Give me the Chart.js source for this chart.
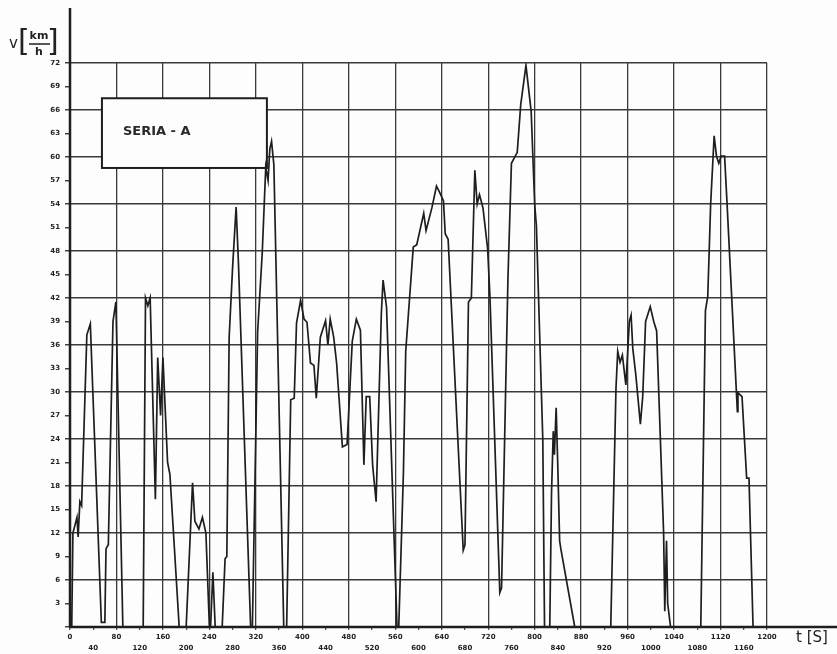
<!DOCTYPE html>
<html>
<head>
<meta charset="utf-8">
<script src="https://cdn.jsdelivr.net/npm/chart.js@4.4.0/dist/chart.umd.min.js"></script>
<style>
  html, body { margin: 0; padding: 0; background: #fff; }
</style>
</head>
<body>
<canvas id="Chart" width="837" height="654"></canvas>
<script>
// speed trace "SERIA - A"
const time = [0, 3, 5, 12, 14, 17, 20, 29, 35, 54, 60, 62, 66, 74, 79, 91,
  126, 130, 134, 138, 147, 151, 156, 160, 168, 172, 188,
  200, 211, 215, 222, 228, 234, 240, 242, 246, 250,
  262, 267, 270, 274, 280, 286, 290, 311,
  314, 323, 331, 337, 341, 344, 347, 351, 368,
  373, 380, 386, 390, 397, 403, 408, 414, 420, 424, 431, 440, 444, 448, 454, 459,
  469, 477, 486, 493, 500, 506, 510, 516, 521, 527, 536, 539, 545, 563,
  566, 574, 578, 591, 597, 609, 613, 623, 631, 637, 643, 646, 651, 677, 680,
  686, 691, 697, 701, 705, 711, 719, 723, 740, 743, 754, 760, 770, 776, 785,
  794, 800, 803, 814, 817,
  826, 829, 832, 834, 837, 840, 843, 845, 869,
  931, 940, 943, 947, 951, 957, 963, 966, 969, 974, 982, 986, 991, 999, 1005, 1010,
  1022, 1024, 1027, 1029, 1034,
  1086, 1094, 1098, 1103, 1109, 1113, 1117, 1121, 1127, 1131, 1149, 1150, 1157, 1165, 1169, 1176];

const speed = [0, 0, 12, 14, 11.5, 16, 15.5, 37.3, 38.7, 0.6, 0.6, 10, 10.5, 39, 41.5, 0,
  0, 42, 41, 42, 16.3, 34.4, 27, 34.4, 21, 19.5, 0,
  0, 18.4, 13.5, 12.5, 14, 12, 0, 0, 7, 0,
  0, 8.7, 9, 37, 46, 53.6, 46.5, 0,
  0, 37.6, 47.8, 58.7, 57, 61, 62, 59, 0,
  0, 29, 29.2, 38.8, 41.7, 39.3, 38.9, 33.7, 33.4, 29.2, 37, 39.1, 36, 39.3, 37, 33.7,
  23, 23.3, 36.5, 39.3, 37.9, 20.7, 29.4, 29.4, 20.7, 16, 40, 44.3, 40.8, 0,
  0, 19.6, 35.2, 48.5, 48.8, 52.8, 50.6, 53.5, 56.3, 55.4, 54.4, 50.2, 49.5, 9.8, 10.5,
  41.5, 42, 58.3, 54, 55.2, 53.5, 48.3, 42.2, 4.4, 5, 44.5, 59.2, 60.6, 66.7, 71.7,
  65.8, 54, 51.2, 24, 0,
  0, 17, 25, 22, 28, 20, 11, 10, 0,
  0, 30.5, 35.2, 33.8, 34.7, 30.9, 39, 39.8, 35.5, 32.3, 25.9, 29.4, 39, 40.9, 39, 37.8,
  12, 2, 11, 3, 0,
  0, 40.4, 42.2, 54, 62.7, 60.1, 59.2, 60.1, 60.1, 54.4, 27.5, 29.9, 29.4, 19, 19, 0];

const seriesName = 'SERIA - A';
const xAxisTitle = 't [S]';
const yAxisUnitTop = 'km';
const yAxisUnitBottom = 'h';

const ink = '#1e1e1e';
const gridInk = '#3a3a3a';

const decorations = {
  id: 'decorations',
  beforeDraw(chart) {
    const c = chart.ctx;
    c.save();
    c.fillStyle = '#fdfdfd';
    c.fillRect(0, 0, chart.width, chart.height);
    c.restore();
  },
  beforeDatasetsDraw(chart) {
    // label box, placed in data coordinates
    const c = chart.ctx, x = chart.scales.x, y = chart.scales.y;
    const l = x.getPixelForValue(55), r = x.getPixelForValue(339);
    const t = y.getPixelForValue(67.5), b = y.getPixelForValue(58.6);
    c.save();
    c.fillStyle = '#fdfdfd';
    c.fillRect(l, t, r - l, b - t);
    c.strokeStyle = ink;
    c.lineWidth = 2;
    c.strokeRect(l, t, r - l, b - t);
    c.fillStyle = '#2a2a2a';
    c.font = 'bold 13px "DejaVu Sans"';
    c.textBaseline = 'middle';
    c.textAlign = 'left';
    c.fillText(seriesName, l + 21, (t + b) / 2 - 1);
    c.restore();
  },
  afterDraw(chart) {
    const c = chart.ctx, a = chart.chartArea;
    c.save();
    c.strokeStyle = ink;
    c.lineWidth = 2.5;
    // axes, running past the plot area
    c.beginPath();
    c.moveTo(a.left, a.bottom);
    c.lineTo(a.left, 8);
    c.moveTo(a.left, a.bottom);
    c.lineTo(chart.width, a.bottom);
    c.stroke();
    c.fillStyle = '#222';
    c.textBaseline = 'middle';
    // t [S]
    c.font = '15px "DejaVu Sans"';
    c.textAlign = 'left';
    c.fillText(xAxisTitle, 796, 638);
    // v[km/h]
    c.font = '15px "DejaVu Sans"';
    c.fillText('v', 9, 44);
    c.font = '30px "DejaVu Sans"';
    c.fillText('[', 18, 43);
    c.fillText(']', 47, 43);
    c.font = 'bold 11px "DejaVu Sans"';
    c.textAlign = 'center';
    c.fillText(yAxisUnitTop, 39, 36);
    c.fillText(yAxisUnitBottom, 39, 52);
    c.lineWidth = 1.5;
    c.beginPath();
    c.moveTo(29, 44);
    c.lineTo(50, 44);
    c.stroke();
    c.restore();
  }
};

const ctx = document.getElementById('Chart').getContext('2d');
const myChart = new Chart(ctx, {
  type: 'line',
  data: {
    datasets: [{
      label: seriesName,
      data: time.map((t, i) => ({ x: t, y: speed[i] })),
      borderColor: ink,
      borderWidth: 1.7,
      pointRadius: 0,
      tension: 0,
      fill: false
    }]
  },
  options: {
    responsive: false,
    animation: false,
    devicePixelRatio: 1,
    layout: { padding: { top: 63, right: 70, left: 0, bottom: 0 } },
    plugins: { legend: { display: false }, tooltip: { enabled: false } },
    scales: {
      x: {
        type: 'linear',
        min: 0,
        max: 1200,
        afterFit(scale) { scale.height = 27; },
        border: { display: true, color: ink, width: 2 },
        grid: {
          color: c => (c.tick && c.tick.value > 0 && c.tick.value % 80 === 0) ? gridInk : 'rgba(0,0,0,0)',
          lineWidth: 1.3,
          tickColor: '#555',
          tickLength: 3,
          drawTicks: true
        },
        ticks: {
          stepSize: 40,
          autoSkip: false,
          maxRotation: 0,
          padding: 2,
          color: '#222',
          font: { family: 'DejaVu Sans', size: 7, weight: 'bold', lineHeight: 1.55 },
          callback: v => (v % 80 === 0) ? String(v) : ['', String(v)]
        }
      },
      y: {
        type: 'linear',
        min: 0,
        max: 72,
        afterFit(scale) { scale.width = 70; },
        border: { display: true, color: ink, width: 2 },
        grid: {
          color: c => (c.tick && c.tick.value > 0 && c.tick.value % 6 === 0) ? gridInk : 'rgba(0,0,0,0)',
          lineWidth: 1.5,
          tickColor: '#444',
          tickLength: 5,
          drawTicks: true
        },
        ticks: {
          stepSize: 3,
          autoSkip: false,
          padding: 5,
          color: '#222',
          font: { family: 'DejaVu Sans', size: 7, weight: 'bold' },
          callback: v => v === 0 ? '' : String(v)
        }
      }
    }
  },
  plugins: [decorations]
});
</script>
</body>
</html>
